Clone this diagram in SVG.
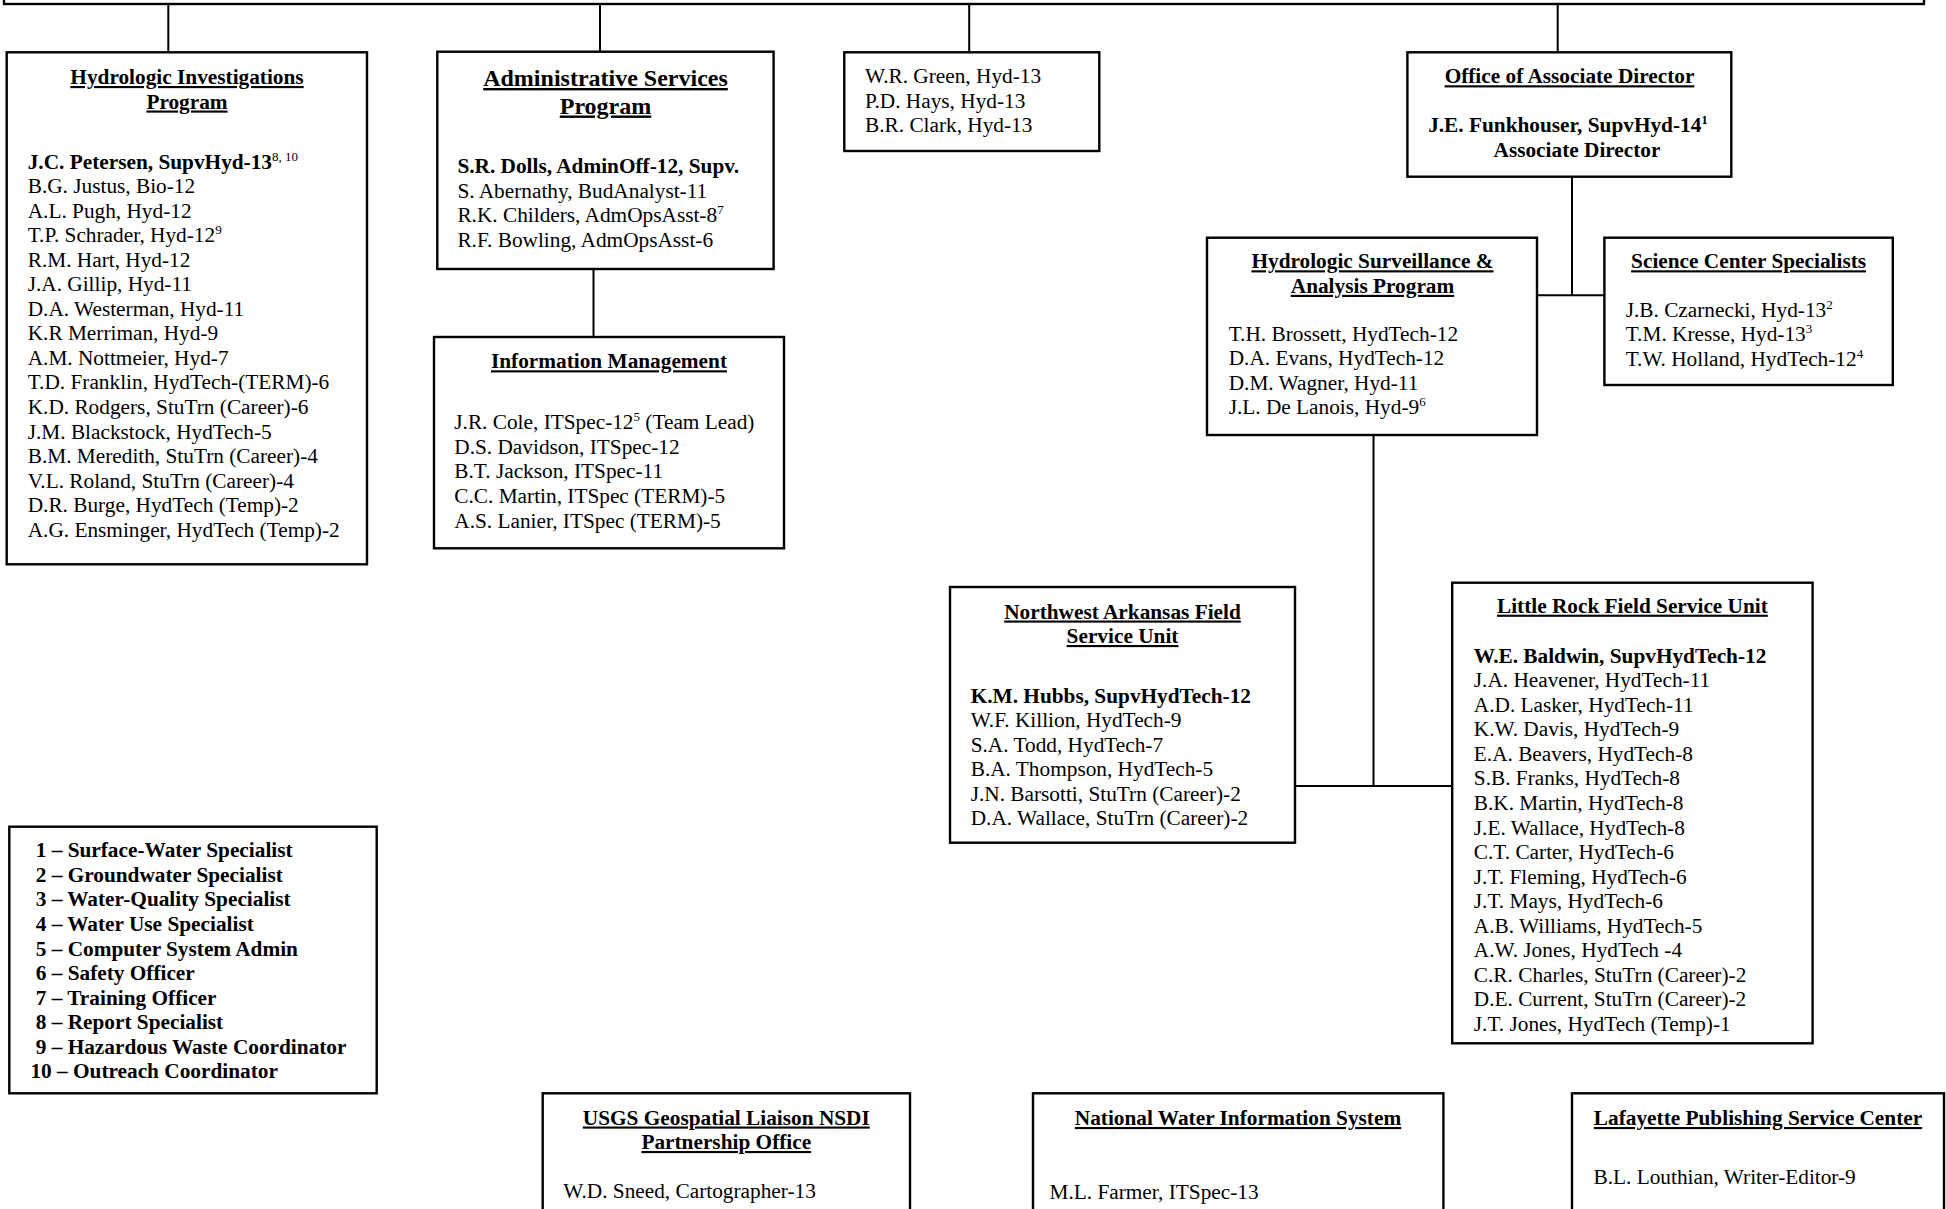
<svg xmlns="http://www.w3.org/2000/svg" width="1946" height="1209" viewBox="0 0 1946 1209">
<style>
  .box { fill: #ffffff; stroke: #000000; stroke-width: 2.4; }
  .con { stroke: #000000; stroke-width: 2; fill: none; }
  text { font-family: "Liberation Serif", "Times New Roman", serif; font-size: 21.3px; fill: #000000; }
  .t { font-weight: bold; text-decoration: underline; text-anchor: middle; }
  .big { font-size: 24px; }
  .b { font-weight: bold; }
  .c { text-anchor: middle; }
  .sup { font-size: 13px; font-weight: normal; }
</style>
<rect width="1946" height="1209" fill="#ffffff"/>

<g id="connectors">
  <line class="con" x1="168.3" y1="4" x2="168.3" y2="52.3"/>
  <line class="con" x1="600" y1="4" x2="600" y2="51.7"/>
  <line class="con" x1="969.2" y1="4" x2="969.2" y2="52.3"/>
  <line class="con" x1="1557.7" y1="4" x2="1557.7" y2="52.3"/>
  <line class="con" x1="593.5" y1="269" x2="593.5" y2="337"/>
  <line class="con" x1="1572" y1="176.7" x2="1572" y2="295.3"/>
  <line class="con" x1="1537" y1="295.3" x2="1604.4" y2="295.3"/>
  <line class="con" x1="1373.5" y1="435" x2="1373.5" y2="786"/>
  <line class="con" x1="1295" y1="786" x2="1452.2" y2="786"/>
</g>

<g id="top-box">
  <rect class="box" x="4" y="-30" width="1920" height="34"/>
</g>

<g id="hydrologic-investigations">
  <rect class="box" x="6.7" y="52.3" width="360.3" height="512"/>
  <text class="t" x="187" y="84">Hydrologic Investigations</text>
  <text class="t" x="187" y="108.5">Program</text>
  <text x="27.7" y="168.5">
    <tspan class="b">J.C. Petersen, SupvHyd-13</tspan><tspan class="sup" dy="-8">8, 10</tspan>
    <tspan x="27.7" y="193.05">B.G. Justus, Bio-12</tspan>
    <tspan x="27.7" y="217.6">A.L. Pugh, Hyd-12</tspan>
    <tspan x="27.7" y="242.15">T.P. Schrader, Hyd-12</tspan><tspan class="sup" dy="-8">9</tspan>
    <tspan x="27.7" y="266.7">R.M. Hart, Hyd-12</tspan>
    <tspan x="27.7" y="291.25">J.A. Gillip, Hyd-11</tspan>
    <tspan x="27.7" y="315.8">D.A. Westerman, Hyd-11</tspan>
    <tspan x="27.7" y="340.35">K.R Merriman, Hyd-9</tspan>
    <tspan x="27.7" y="364.9">A.M. Nottmeier, Hyd-7</tspan>
    <tspan x="27.7" y="389.45">T.D. Franklin, HydTech-(TERM)-6</tspan>
    <tspan x="27.7" y="414">K.D. Rodgers, StuTrn (Career)-6</tspan>
    <tspan x="27.7" y="438.55">J.M. Blackstock, HydTech-5</tspan>
    <tspan x="27.7" y="463.1">B.M. Meredith, StuTrn (Career)-4</tspan>
    <tspan x="27.7" y="487.65">V.L. Roland, StuTrn (Career)-4</tspan>
    <tspan x="27.7" y="512.2">D.R. Burge, HydTech (Temp)-2</tspan>
    <tspan x="27.7" y="536.75">A.G. Ensminger, HydTech (Temp)-2</tspan>
  </text>
</g>

<g id="administrative-services">
  <rect class="box" x="437.3" y="51.7" width="336.3" height="217.3"/>
  <text class="t big" x="605.5" y="86">Administrative Services</text>
  <text class="t big" x="605.5" y="113.5">Program</text>
  <text x="457.4" y="173.3">
    <tspan class="b">S.R. Dolls, AdminOff-12, Supv.</tspan>
    <tspan x="457.4" y="197.85">S. Abernathy, BudAnalyst-11</tspan>
    <tspan x="457.4" y="222.4">R.K. Childers, AdmOpsAsst-8</tspan><tspan class="sup" dy="-8">7</tspan>
    <tspan x="457.4" y="246.95">R.F. Bowling, AdmOpsAsst-6</tspan>
  </text>
</g>

<g id="senior-hydrologists">
  <rect class="box" x="844.3" y="52.3" width="255" height="98.7"/>
  <text x="865" y="83.3">
    <tspan x="865" y="83.3">W.R. Green, Hyd-13</tspan>
    <tspan x="865" y="107.85">P.D. Hays, Hyd-13</tspan>
    <tspan x="865" y="132.4">B.R. Clark, Hyd-13</tspan>
  </text>
</g>

<g id="office-associate-director">
  <rect class="box" x="1407.4" y="52.3" width="323.9" height="124.4"/>
  <text class="t" x="1569.5" y="83.3">Office of Associate Director</text>
  <text class="b c" x="1568" y="132">J.E. Funkhouser, SupvHyd-14<tspan class="sup b" dy="-8" style="font-weight:bold">1</tspan></text>
  <text class="b c" x="1577" y="156.5">Associate Director</text>
</g>

<g id="information-management">
  <rect class="box" x="434" y="337" width="350" height="211.3"/>
  <text class="t" x="609" y="368.3">Information Management</text>
  <text x="454.3" y="429.3">
    <tspan>J.R. Cole, ITSpec-12</tspan><tspan class="sup" dy="-8">5</tspan><tspan dy="8"> (Team Lead)</tspan>
    <tspan x="454.3" y="453.85">D.S. Davidson, ITSpec-12</tspan>
    <tspan x="454.3" y="478.4">B.T. Jackson, ITSpec-11</tspan>
    <tspan x="454.3" y="502.95">C.C. Martin, ITSpec (TERM)-5</tspan>
    <tspan x="454.3" y="527.5">A.S. Lanier, ITSpec (TERM)-5</tspan>
  </text>
</g>

<g id="hydrologic-surveillance">
  <rect class="box" x="1207" y="237.7" width="330" height="197.3"/>
  <text class="t" x="1372.5" y="268.3">Hydrologic Surveillance &amp;</text>
  <text class="t" x="1372.5" y="292.85">Analysis Program</text>
  <text x="1228.7" y="340.5">
    <tspan x="1228.7" y="340.5">T.H. Brossett, HydTech-12</tspan>
    <tspan x="1228.7" y="365.05">D.A. Evans, HydTech-12</tspan>
    <tspan x="1228.7" y="389.6">D.M. Wagner, Hyd-11</tspan>
    <tspan x="1228.7" y="414.15">J.L. De Lanois, Hyd-9</tspan><tspan class="sup" dy="-8">6</tspan>
  </text>
</g>

<g id="science-center-specialists">
  <rect class="box" x="1604.4" y="237.7" width="288.4" height="147.3"/>
  <text class="t" x="1748.6" y="268.3">Science Center Specialists</text>
  <text x="1625.7" y="316.7">
    <tspan x="1625.7" y="316.7">J.B. Czarnecki, Hyd-13</tspan><tspan class="sup" dy="-8">2</tspan>
    <tspan x="1625.7" y="341.25">T.M. Kresse, Hyd-13</tspan><tspan class="sup" dy="-8">3</tspan>
    <tspan x="1625.7" y="365.8">T.W. Holland, HydTech-12</tspan><tspan class="sup" dy="-8">4</tspan>
  </text>
</g>

<g id="northwest-arkansas-fsu">
  <rect class="box" x="950" y="587" width="345" height="255.7"/>
  <text class="t" x="1122.5" y="618.5">Northwest Arkansas Field</text>
  <text class="t" x="1122.5" y="643">Service Unit</text>
  <text x="970.7" y="702.7">
    <tspan class="b">K.M. Hubbs, SupvHydTech-12</tspan>
    <tspan x="970.7" y="727.25">W.F. Killion, HydTech-9</tspan>
    <tspan x="970.7" y="751.8">S.A. Todd, HydTech-7</tspan>
    <tspan x="970.7" y="776.35">B.A. Thompson, HydTech-5</tspan>
    <tspan x="970.7" y="800.9">J.N. Barsotti, StuTrn (Career)-2</tspan>
    <tspan x="970.7" y="825.45">D.A. Wallace, StuTrn (Career)-2</tspan>
  </text>
</g>

<g id="little-rock-fsu">
  <rect class="box" x="1452.2" y="582.7" width="360.4" height="460.6"/>
  <text class="t" x="1632.4" y="612.7">Little Rock Field Service Unit</text>
  <text x="1473.8" y="662.7">
    <tspan class="b">W.E. Baldwin, SupvHydTech-12</tspan>
    <tspan x="1473.8" y="687.25">J.A. Heavener, HydTech-11</tspan>
    <tspan x="1473.8" y="711.8">A.D. Lasker, HydTech-11</tspan>
    <tspan x="1473.8" y="736.35">K.W. Davis, HydTech-9</tspan>
    <tspan x="1473.8" y="760.9">E.A. Beavers, HydTech-8</tspan>
    <tspan x="1473.8" y="785.45">S.B. Franks, HydTech-8</tspan>
    <tspan x="1473.8" y="810">B.K. Martin, HydTech-8</tspan>
    <tspan x="1473.8" y="834.55">J.E. Wallace, HydTech-8</tspan>
    <tspan x="1473.8" y="859.1">C.T. Carter, HydTech-6</tspan>
    <tspan x="1473.8" y="883.65">J.T. Fleming, HydTech-6</tspan>
    <tspan x="1473.8" y="908.2">J.T. Mays, HydTech-6</tspan>
    <tspan x="1473.8" y="932.75">A.B. Williams, HydTech-5</tspan>
    <tspan x="1473.8" y="957.3">A.W. Jones, HydTech -4</tspan>
    <tspan x="1473.8" y="981.85">C.R. Charles, StuTrn (Career)-2</tspan>
    <tspan x="1473.8" y="1006.4">D.E. Current, StuTrn (Career)-2</tspan>
    <tspan x="1473.8" y="1030.95">J.T. Jones, HydTech (Temp)-1</tspan>
  </text>
</g>

<g id="legend">
  <rect class="box" x="9.3" y="826.7" width="367.4" height="266.6"/>
  <text class="b" x="35.7" y="857.3">
    <tspan x="35.7" y="857.3">1 – Surface-Water Specialist</tspan>
    <tspan x="35.7" y="881.85">2 – Groundwater Specialist</tspan>
    <tspan x="35.7" y="906.4">3 – Water-Quality Specialist</tspan>
    <tspan x="35.7" y="930.95">4 – Water Use Specialist</tspan>
    <tspan x="35.7" y="955.5">5 – Computer System Admin</tspan>
    <tspan x="35.7" y="980.05">6 – Safety Officer</tspan>
    <tspan x="35.7" y="1004.6">7 – Training Officer</tspan>
    <tspan x="35.7" y="1029.15">8 – Report Specialist</tspan>
    <tspan x="35.7" y="1053.7">9 – Hazardous Waste Coordinator</tspan>
    <tspan x="30.4" y="1078.25">10 – Outreach Coordinator</tspan>
  </text>
</g>

<g id="usgs-geospatial-liaison">
  <rect class="box" x="542.7" y="1093.3" width="367.3" height="150"/>
  <text class="t" x="726.3" y="1124.5">USGS Geospatial Liaison NSDI</text>
  <text class="t" x="726.3" y="1149">Partnership Office</text>
  <text x="563.3" y="1198.3">W.D. Sneed, Cartographer-13</text>
</g>

<g id="national-water-information-system">
  <rect class="box" x="1033" y="1093.3" width="410.4" height="150"/>
  <text class="t" x="1238" y="1125">National Water Information System</text>
  <text x="1049.5" y="1199">M.L. Farmer, ITSpec-13</text>
</g>

<g id="lafayette-publishing">
  <rect class="box" x="1572" y="1093.3" width="372" height="150"/>
  <text class="t" x="1758" y="1125">Lafayette Publishing Service Center</text>
  <text x="1593.5" y="1184">B.L. Louthian, Writer-Editor-9</text>
</g>
</svg>
